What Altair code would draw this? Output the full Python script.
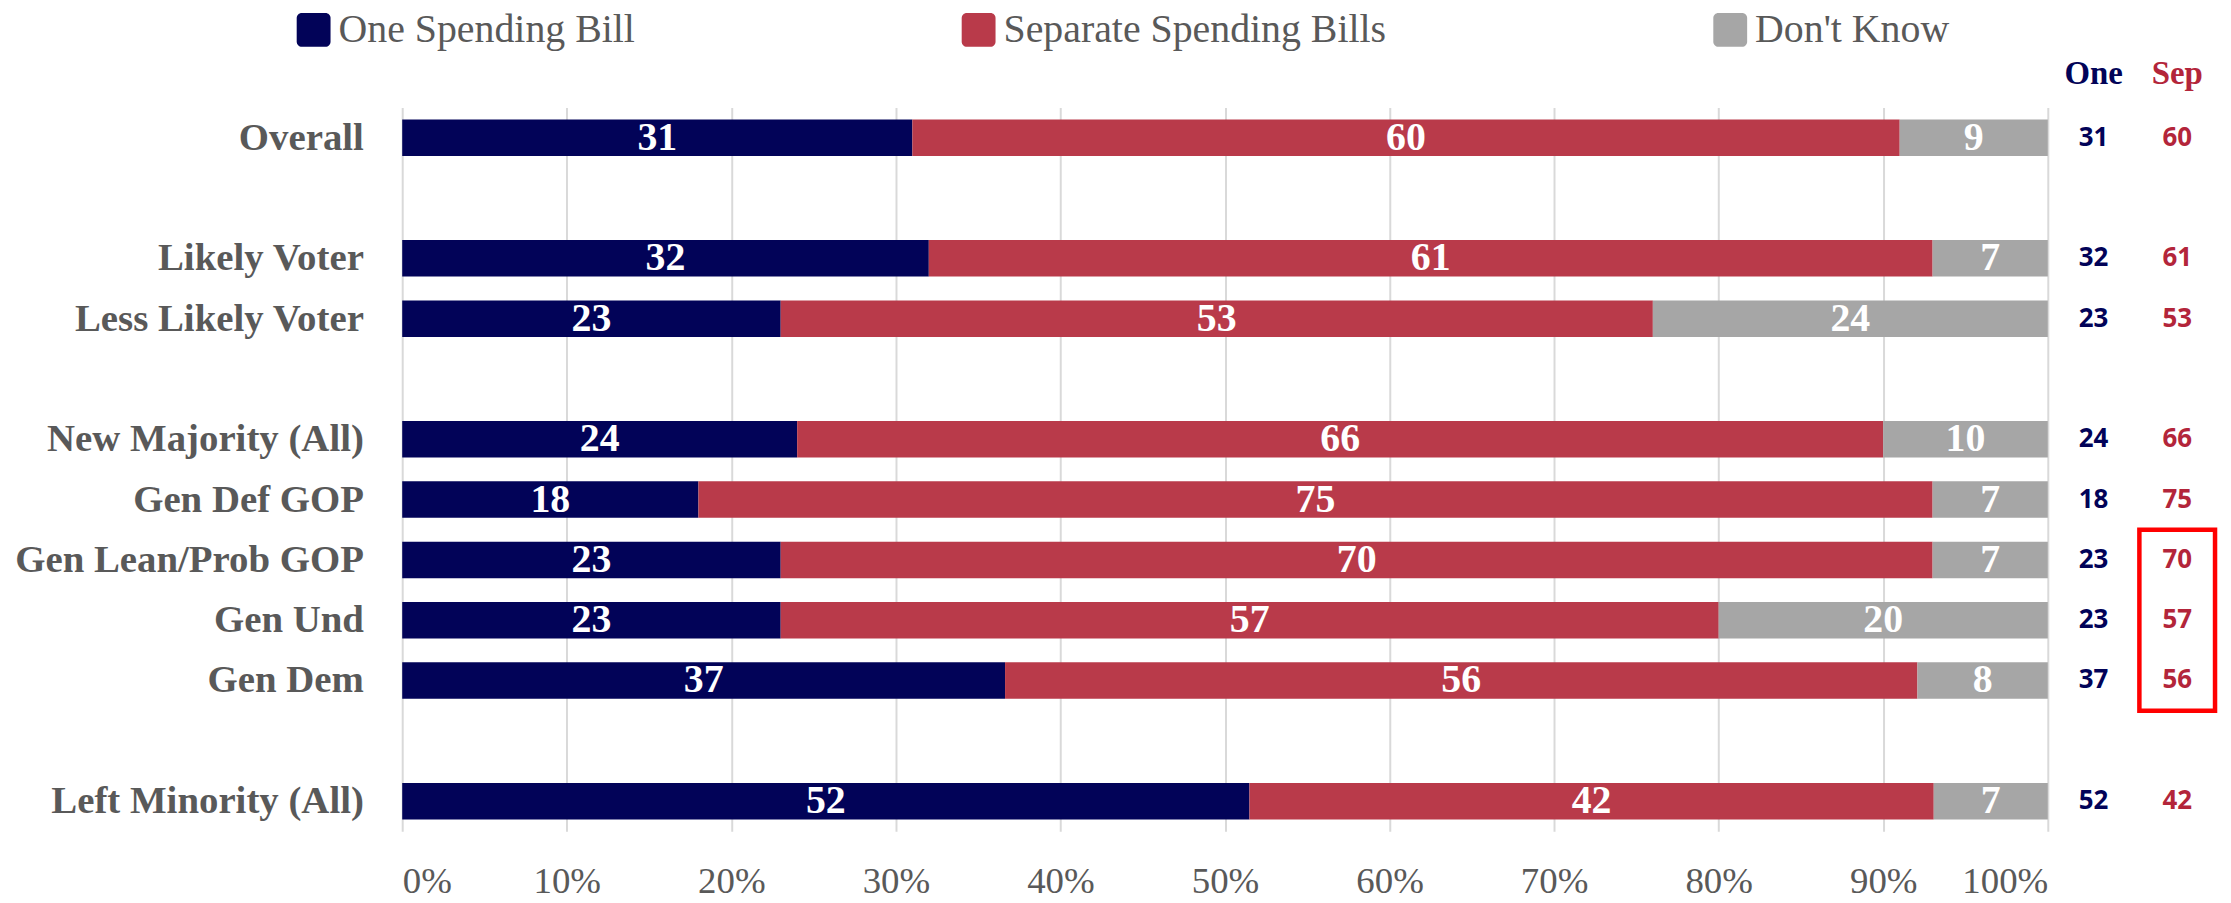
import altair as alt
import pandas as pd

# ---- data ----
rows = ["Overall", " ", "Likely Voter", "Less Likely Voter", "  ",
        "New Majority (All)", "Gen Def GOP", "Gen Lean/Prob GOP", "Gen Und",
        "Gen Dem", "   ", "Left Minority (All)"]
groups = ["Overall", "Likely Voter", "Less Likely Voter", "New Majority (All)",
          "Gen Def GOP", "Gen Lean/Prob GOP", "Gen Und", "Gen Dem",
          "Left Minority (All)"]
one = [31, 32, 23, 24, 18, 23, 23, 37, 52]
sep = [60, 61, 53, 66, 75, 70, 57, 56, 42]
dk = [9, 7, 24, 10, 7, 7, 20, 8, 7]
series = ["One Spending Bill", "Separate Spending Bills", "Don't Know"]
highlight = ["Gen Lean/Prob GOP", "Gen Dem"]

NAVY = "#020358"
RED = "#B93A4A"
GRAY = "#A6A6A6"
RED_TXT = "#B3253A"
LBL = "#595959"
SERIF = "Liberation Serif"

recs = []
for i, g in enumerate(groups):
    for k, (s, vals) in enumerate(zip(series, [one, sep, dk])):
        recs.append({"group": g, "series": s, "order": k, "value": vals[i]})
df = pd.DataFrame(recs)

cols = pd.DataFrame({"group": groups, "one": one, "sep": sep})
box = pd.DataFrame({"start": [highlight[0]], "end": [highlight[1]]})

W, H = 1653, 727
yscale = alt.Scale(domain=rows, paddingInner=0, paddingOuter=0)

rounded = ("M -0.7,-1 H 0.7 A 0.3,0.3 0 0 1 1,-0.7 V 0.7 A 0.3,0.3 0 0 1 0.7,1 "
           "H -0.7 A 0.3,0.3 0 0 1 -1,0.7 V -0.7 A 0.3,0.3 0 0 1 -0.7,-1 Z")

base = alt.Chart(df).transform_stack(
    stack="value", groupby=["group"], as_=["v0", "v1"], offset="normalize",
    sort=[alt.SortField("order")]
).transform_calculate(mid="(datum.v0 + datum.v1) / 2")

yenc = alt.Y("group:N", scale=yscale, title=None,
             axis=alt.Axis(domain=False, ticks=False, tickSize=0, grid=False,
                           labelFont=SERIF, labelFontSize=39, labelFontWeight="bold",
                           labelColor=LBL, labelPadding=39, labelLimit=600))

bars = base.mark_bar(size=36.7).encode(
    y=yenc,
    x=alt.X("v0:Q", scale=alt.Scale(domain=[0, 1], nice=False), title=None,
            axis=alt.Axis(format="%", values=[i / 10 for i in range(11)],
                          domain=False, ticks=False, tickSize=0,
                          grid=True, gridColor="#D9D9D9", gridWidth=2,
                          labelFont=SERIF, labelFontSize=37, labelColor=LBL,
                          labelPadding=32)),
    x2="v1:Q",
    color=alt.Color("series:N", sort=series,
                    scale=alt.Scale(domain=series, range=[NAVY, RED, GRAY]),
                    legend=alt.Legend(orient="none", legendX=-109, legendY=-98,
                                      direction="horizontal", title=None,
                                      symbolType=rounded, symbolSize=1156,
                                      symbolStrokeWidth=0, symbolOpacity=1,
                                      labelFont=SERIF, labelFontSize=40,
                                      labelColor=LBL, labelOffset=5,
                                      labelLimit=1000,
                                      columnPadding=325, padding=0)),
)

labels = base.mark_text(font=SERIF, fontSize=40, fontWeight="bold",
                        color="white", baseline="middle").encode(
    y=alt.Y("group:N", scale=yscale),
    x=alt.X("mid:Q"),
    text=alt.Text("value:Q"),
)

main = alt.layer(bars, labels).properties(width=W, height=H)

one_col = alt.Chart(cols, title=alt.TitleParams(
    "One", font=SERIF, fontSize=33, fontWeight="bold", color=NAVY,
    anchor="middle", baseline="alphabetic", offset=-9)).mark_text(
    font="Open Sans", fontWeight="bold", fontSize=26, color=NAVY,
    baseline="middle").encode(
    y=alt.Y("group:N", scale=yscale, axis=None),
    text=alt.Text("one:Q"),
).properties(width=92, height=H)

sep_text = alt.Chart(cols).mark_text(
    font="Open Sans", fontWeight="bold", fontSize=26, color=RED_TXT,
    baseline="middle").encode(
    y=alt.Y("group:N", scale=yscale, axis=None),
    text=alt.Text("sep:Q"),
)
sep_box = alt.Chart(box).mark_rect(filled=False, stroke="#FF0000",
                                   strokeWidth=4.5).encode(
    y=alt.Y("start:N", scale=yscale, axis=None, bandPosition=0),
    y2=alt.Y2("end:N", bandPosition=1),
)
sep_col = alt.layer(sep_text, sep_box, title=alt.TitleParams(
    "Sep", font=SERIF, fontSize=33, fontWeight="bold", color=RED_TXT,
    anchor="middle", baseline="alphabetic", offset=-9)).properties(width=76, height=H)

chart = alt.hconcat(main, one_col, sep_col, spacing=0, bounds="flush").properties(
    padding={"left": 6, "top": 0, "right": 5, "bottom": 0}
).configure(background="white").configure_view(stroke=None, strokeWidth=0)

chart.save("out.html", embed_options={"renderer": "svg", "actions": False})
